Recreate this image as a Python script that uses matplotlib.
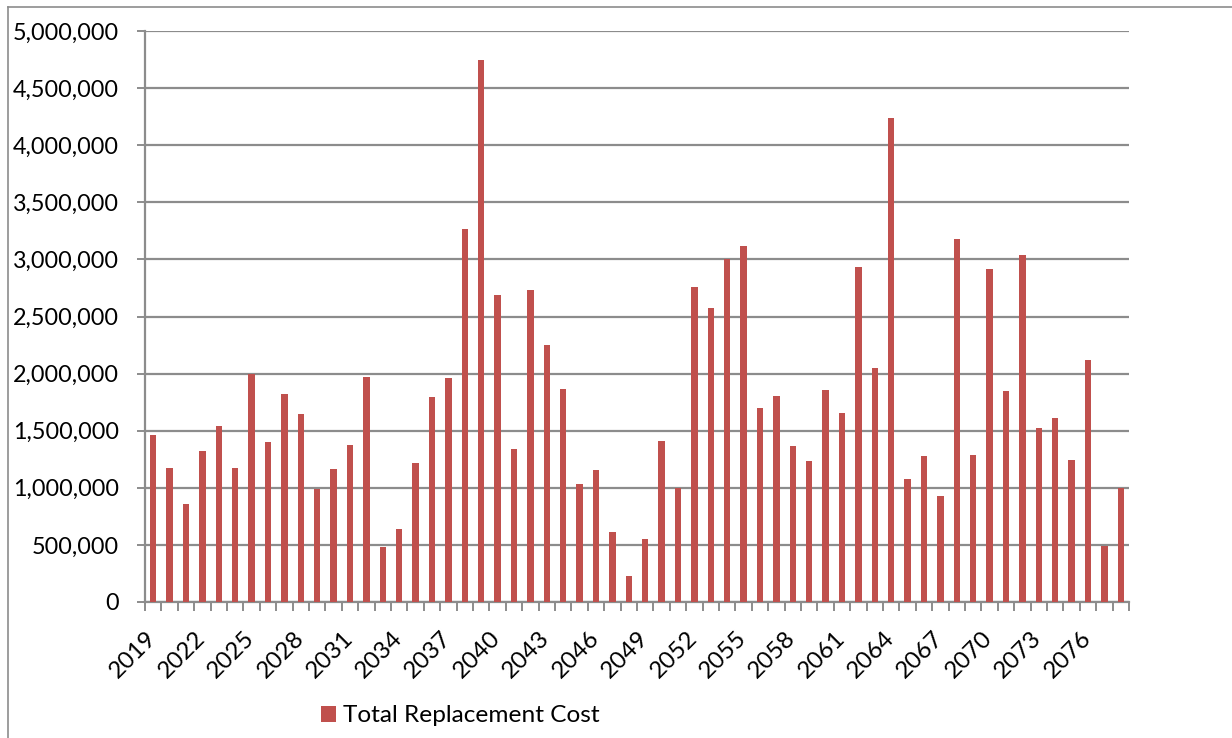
import matplotlib
matplotlib.use("Agg")
import matplotlib.pyplot as plt
import matplotlib.transforms as mtransforms
from matplotlib.lines import Line2D
from matplotlib.ticker import FuncFormatter, MultipleLocator
import numpy as np

# Annual replacement cost, 2019-2078
years = list(range(2019, 2079))
total_replacement_cost = [
    1460000, 1170000, 855000, 1322000, 1543000, 1176000, 1993000, 1398000,
    1820000, 1647000, 990000, 1166000, 1374000, 1972000, 484000, 640000,
    1218000, 1796000, 1958000, 3270000, 4744000, 2689000, 1343000, 2734000,
    2249000, 1862000, 1031000, 1159000, 612000, 225000, 550000, 1412000,
    1000000, 2758000, 2571000, 3000000, 3114000, 1702000, 1806000, 1367000,
    1235000, 1855000, 1657000, 2934000, 2048000, 4242000, 1080000, 1277000,
    924000, 3176000, 1291000, 2920000, 1844000, 3042000, 1526000, 1612000,
    1246000, 2121000, 488000, 1000000,
]
series_name = "Total Replacement Cost"
label_step = 3

bar_color = "#C0504D"
grid_color = "#8C8C8C"
font_family = ["Lato", "DejaVu Sans"]
fs = 16.8

plt.rcParams["font.family"] = font_family

W, H = 1232, 738
fig = plt.figure(figsize=(W / 100, H / 100), dpi=100)
fig.patch.set_facecolor("white")

ax = fig.add_axes([145 / W, 1 - 602 / H, (1129 - 145) / W, (602 - 31) / H])

x = np.arange(len(years))
ax.bar(x, total_replacement_cost, width=0.38, color=bar_color, zorder=3,
       label=series_name)

ax.set_xlim(-0.5, len(years) - 0.5)
ax.set_ylim(0, 5000000)

# y axis
ax.yaxis.set_major_locator(MultipleLocator(500000))
ax.yaxis.set_major_formatter(FuncFormatter(lambda v, p: f"{int(v):,}"))
ax.grid(axis="y", color=grid_color, linewidth=1.6, zorder=0)
ax.tick_params(axis="y", length=8 * 72 / 100, width=1.4, color=grid_color,
               pad=13.2, labelsize=fs, labelcolor="black")

# x axis: tick marks at category boundaries, labels every third year
ax.set_xticks(x[::label_step])
ax.set_xticklabels([str(y) for y in years[::label_step]], rotation=45,
                   ha="right", fontsize=fs + 0.6)
ax.set_xticks(np.arange(-0.5, len(years), 1.0), minor=True)
ax.tick_params(axis="x", which="major", length=0, pad=18)
ax.tick_params(axis="x", which="minor", length=9 * 72 / 100, width=1.4,
               color=grid_color)
shift = mtransforms.ScaledTranslation(7 / 100, 0, fig.dpi_scale_trans)
for lbl in ax.get_xticklabels():
    lbl.set_transform(lbl.get_transform() + shift)

for side in ("top", "right"):
    ax.spines[side].set_visible(False)
for side in ("left", "bottom"):
    ax.spines[side].set_color(grid_color)
    ax.spines[side].set_linewidth(1.6)

# legend below the plot
fig.legend(loc="center left", bbox_to_anchor=(321 / W, 1 - 716 / H),
           frameon=False, fontsize=fs + 0.8, handlelength=0.62,
           handleheight=0.62, handletextpad=0.28, borderpad=0,
           borderaxespad=0)

# chart area border
fig.add_artist(Line2D([8 / W, 8 / W], [0, 1 - 7 / H], color=grid_color,
                      linewidth=1.2, transform=fig.transFigure))
fig.add_artist(Line2D([8 / W, 1], [1 - 7 / H, 1 - 7 / H], color=grid_color,
                      linewidth=1.2, transform=fig.transFigure))

fig.savefig("out.png", dpi=100, facecolor="white")
